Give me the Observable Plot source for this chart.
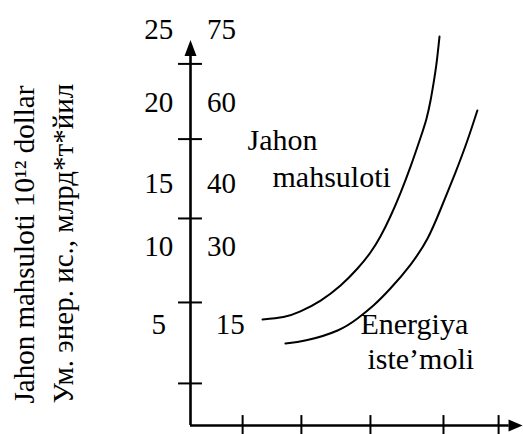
<!DOCTYPE html>
<html><head><meta charset="utf-8">
<script src="https://cdn.jsdelivr.net/npm/d3@7"></script>
<script src="https://cdn.jsdelivr.net/npm/@observablehq/plot@0.6"></script>
<style>
body{margin:0;background:#fff}
svg text{font-family:"Liberation Serif","Times New Roman",serif !important}
</style>
</head><body><div id="chart"></div>
<script>
// Curve data (x: arbitrary time units 0..100, y: 10^12 dollar scale units)
const gdpX = [21.7, 28.0, 33.1, 39.2, 45.2, 50.3, 54.2, 57.2, 60.2, 63.3, 66.3, 69.3, 71.1, 72.3, 73.2, 74.1, 75.0];
const gdpY = [6.63, 6.78, 7.13, 7.81, 8.75, 9.81, 10.81, 11.81, 13.06, 14.56, 16.19, 18.0, 19.19, 20.31, 21.38, 22.63, 24.31];
const energyX = [28.6, 35.2, 44.3, 50.3, 55.1, 60.2, 66.3, 71.4, 75.3, 79.8, 83.4, 86.4];
const energyY = [5.13, 5.34, 5.94, 6.69, 7.5, 8.56, 10.06, 11.69, 13.5, 15.81, 17.81, 19.69];
// Axis ticks and tick labels
const yTicks = [2.63, 7.69, 12.94, 17.9, 22.6];
const xTicks = [15.7, 33.4, 54.2, 76.2, 92.8];
const leftLabels = ["25", "20", "15", "10", "5"];
const rightLabels = ["75", "60", "40", "30", "15"];
const labelY = [24.75, 20.19, 15.13, 11.19, 6.31];
// Series names and axis titles
const seriesLabels = ["Jahon", "mahsuloti", "Energiya", "iste\u2019moli"];
const seriesLabelX = [17.2, 24.7, 51.2, 53.3];
const seriesLabelY = [17.25, 14.9, 5.75, 3.56];
const axisTitles = ["Jahon mahsuloti 10\u00b9\u00b2 dollar", "\u0423\u043c. \u044d\u043d\u0435\u0440. \u0438\u0441., \u043c\u043b\u0440\u0434*\u0442*\u0439\u0438\u043b"];
const axisTitleX = [-47, -35.5];

const gdp = gdpX.map((x, i) => ({x, y: gdpY[i]}));
const energy = energyX.map((x, i) => ({x, y: energyY[i]}));
const tickLabels = leftLabels.map((l, i) => ({left: l, right: rightLabels[i], y: labelY[i], i}));
const notes = seriesLabels.map((t, i) => ({t, x: seriesLabelX[i], y: seriesLabelY[i]}));
const titles = axisTitles.map((t, i) => ({t, x: axisTitleX[i], y: 1.375}));

const font = "Liberation Serif";
const chart = Plot.plot({
  width: 523, height: 434,
  marginLeft: 190, marginRight: 1, marginTop: 33, marginBottom: 9,
  x: {domain: [0, 100], axis: null},
  y: {domain: [0, 24.5], axis: null},
  style: {background: "#fff", color: "#000"},
  marks: [
    Plot.ruleX([0], {y1: 0, y2: 23.3, stroke: "#000", strokeWidth: 2.6}),
    Plot.ruleY([0], {x1: 0, x2: 96, stroke: "#000", strokeWidth: 2.6}),
    Plot.vector([{x: 0, y: 23.1}], {x: "x", y: "y", length: 16, r: 6, shape: "spike", anchor: "start", rotate: 0, fill: "#000", stroke: "none"}),
    Plot.vector([{x: 95.8, y: 0}], {x: "x", y: "y", length: 14, r: 6, shape: "spike", anchor: "start", rotate: 90, fill: "#000", stroke: "none"}),
    Plot.ruleY(yTicks, {x1: -3.6, x2: 3.6, stroke: "#000", strokeWidth: 2}),
    Plot.ruleX(xTicks, {y1: -0.65, y2: 0.62, stroke: "#000", strokeWidth: 2}),
    Plot.line(gdp, {x: "x", y: "y", curve: "natural", stroke: "#000", strokeWidth: 2}),
    Plot.line(energy, {x: "x", y: "y", curve: "natural", stroke: "#000", strokeWidth: 2}),
    Plot.text(tickLabels, {x: -9.6, y: "y", text: "left", textAnchor: "middle", fontSize: 29, fontFamily: font, fill: "#000"}),
    Plot.text(tickLabels, {x: d => d.i === 4 ? 12 : 9.3, y: "y", text: "right", textAnchor: "middle", fontSize: 29, fontFamily: font, fill: "#000"}),
    Plot.text(notes, {x: "x", y: "y", text: "t", textAnchor: "start", lineAnchor: "bottom", fontSize: 30, fontFamily: font, fill: "#000"}),
    Plot.text(titles, {x: "x", y: "y", text: "t", rotate: -90, textAnchor: "start", lineAnchor: "bottom", fontSize: 29, fontFamily: font, fill: "#000"})
  ]
});
document.getElementById("chart").appendChild(chart);
</script>
</body></html>
